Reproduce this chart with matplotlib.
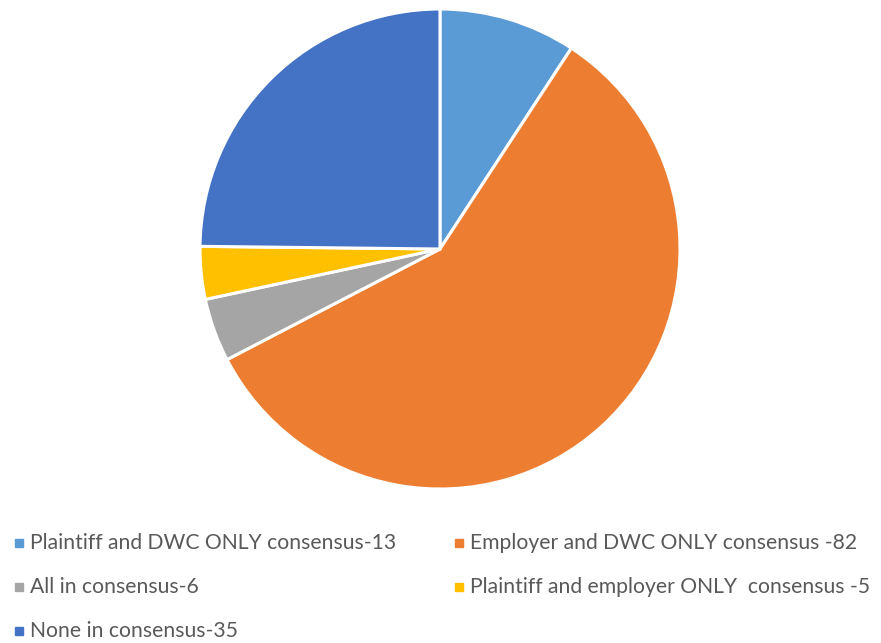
import matplotlib.pyplot as plt
from matplotlib.patches import Rectangle

labels = [
    'Plaintiff and DWC ONLY consensus-13',
    'Employer and DWC ONLY consensus -82',
    'All in consensus-6',
    'Plaintiff and employer ONLY  consensus -5',
    'None in consensus-35',
]
values = [13, 82, 6, 5, 35]
colors = ['#5B9BD5', '#ED7D31', '#A5A5A5', '#FFC000', '#4472C4']

W, H = 881, 643
fig = plt.figure(figsize=(W / 100, H / 100), dpi=100)

# pie centred at (440, 249) px with radius 240 px
cx, cy, r = 440, 249, 240
ax = fig.add_axes([(cx - r) / W, (H - cy - r) / H, 2 * r / W, 2 * r / H])
ax.pie(values, colors=colors, startangle=90, counterclock=False, radius=1,
       wedgeprops=dict(edgecolor='white', linewidth=2.2))
ax.set_xlim(-1, 1)
ax.set_ylim(-1, 1)
ax.set_aspect('equal')
ax.axis('off')

# legend laid out in two columns
cols_x = [15, 455]
rows_y = [543, 587, 631]
for i, (lab, col) in enumerate(zip(labels, colors)):
    x = cols_x[i % 2]
    y = rows_y[i // 2]
    fig.patches.append(Rectangle((x / W, (H - y - 4) / H), 8 / W, 8 / H,
                                 transform=fig.transFigure, color=col))
    fig.text((x + 15) / W, (H - y) / H, lab, fontsize=15.2, family='Lato',
             color='#595959', va='center', ha='left')

fig.savefig('out.png', dpi=100, facecolor='white')
